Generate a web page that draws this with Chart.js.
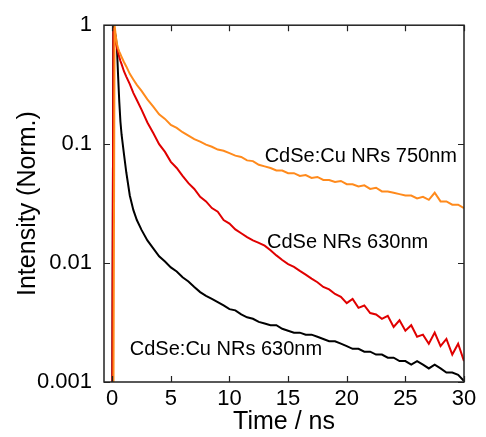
<!DOCTYPE html>
<html>
<head>
<meta charset="utf-8">
<script src="https://cdn.jsdelivr.net/npm/chart.js@4/dist/chart.umd.min.js"></script>
<style>
html,body{margin:0;padding:0;background:#fff;}
#wrap{width:486px;height:437px;}
</style>
</head>
<body>
<div id="wrap"><canvas id="c" width="486" height="437"></canvas></div>
<script>
// Time axis (ns)
const times = [-0.7, 0.0, 0.1, 0.2, 0.3, 0.4, 0.5, 0.6, 0.7, 0.8, 1.0, 1.2, 1.5, 1.8, 2.1, 2.5,
  3.0, 3.5, 4.0, 4.5, 5.0, 5.5, 6.0, 6.5, 7.0, 7.5, 8.0, 8.5, 9.0, 9.5, 10.0, 10.5, 11.0, 11.5,
  12.0, 12.5, 13.0, 13.5, 14.0, 14.5, 15.0, 15.5, 16.0, 16.5, 17.0, 17.5, 18.0, 18.5, 19.0, 19.5,
  20.0, 20.5, 21.0, 21.5, 22.0, 22.5, 23.0, 23.5, 24.0, 24.5, 25.0, 25.5, 26.0, 26.5, 27.0, 27.5,
  28.0, 28.5, 29.0, 29.5, 30.0];

// CdSe:Cu NRs 750nm (orange)
const cuNR750 = [0.0004, 0.0004, 0.0004, 1.0, 0.82, 0.70, 0.64, 0.60, 0.57, 0.54, 0.49, 0.45, 0.39, 0.35, 0.315, 0.28,
  0.238, 0.207, 0.178, 0.163, 0.145, 0.137, 0.126, 0.118, 0.110, 0.105, 0.099, 0.095, 0.090, 0.088, 0.084, 0.080, 0.078, 0.073,
  0.072, 0.067, 0.065, 0.063, 0.060, 0.060, 0.057, 0.057, 0.054, 0.055, 0.052, 0.053, 0.050, 0.050, 0.048, 0.049,
  0.046, 0.046, 0.044, 0.045, 0.042, 0.043, 0.040, 0.040, 0.039, 0.038, 0.037, 0.037, 0.035, 0.036, 0.034, 0.039,
  0.033, 0.033, 0.031, 0.031, 0.029];

// CdSe NRs 630nm (red)
const nr630 = [0.0004, 0.0004, 0.95, 0.80, 0.72, 0.65, 0.59, 0.54, 0.50, 0.47, 0.41, 0.37, 0.32, 0.27, 0.235, 0.195,
  0.152, 0.124, 0.100, 0.086, 0.071, 0.063, 0.054, 0.047, 0.042, 0.036, 0.033, 0.029, 0.027, 0.023, 0.0215, 0.0192, 0.0178, 0.0165,
  0.0155, 0.0148, 0.0140, 0.0128, 0.0116, 0.0106, 0.0098, 0.0093, 0.0086, 0.0080, 0.0074, 0.0069, 0.0063, 0.0060, 0.0055, 0.0052,
  0.0046, 0.0050, 0.0042, 0.0044, 0.0038, 0.0037, 0.0034, 0.0036, 0.0029, 0.0033, 0.0027, 0.0030, 0.0024, 0.0025, 0.0021, 0.0026,
  0.0020, 0.0023, 0.0017, 0.0021, 0.0015];

// CdSe:Cu NRs 630nm (black)
const cuNR630 = [0.0004, 0.0004, 0.98, 0.90, 0.80, 0.66, 0.38, 0.23, 0.155, 0.12, 0.083, 0.058, 0.037, 0.028, 0.023, 0.019,
  0.0155, 0.0133, 0.0114, 0.0103, 0.0092, 0.0085, 0.0076, 0.0070, 0.0063, 0.0057, 0.0053, 0.0050, 0.0047, 0.0044, 0.0041, 0.0040, 0.0037, 0.0035,
  0.0034, 0.0032, 0.0031, 0.0030, 0.0030, 0.0028, 0.0027, 0.0026, 0.0026, 0.0025, 0.0025, 0.0024, 0.0023, 0.0022, 0.0022, 0.0021,
  0.0020, 0.0019, 0.0019, 0.0018, 0.0018, 0.0017, 0.0017, 0.0016, 0.0016, 0.0015, 0.0015, 0.0014, 0.0015, 0.0014, 0.0013, 0.0014,
  0.0013, 0.0012, 0.0012, 0.00115, 0.00102];

const xTickValues = [0, 5, 10, 15, 20, 25, 30];
const xTickLabels = ['0', '5', '10', '15', '20', '25', '30'];
const yTickValues = [0.001, 0.01, 0.1, 1];
const yTickLabels = ['0.001', '0.01', '0.1', '1'];
const seriesNames = ['CdSe:Cu NRs 750nm', 'CdSe NRs 630nm', 'CdSe:Cu NRs 630nm'];

const FONT = "'Liberation Sans', Arial, sans-serif";
const toPts = arr => times.map((t, i) => ({x: t, y: arr[i]}));

// curve labels anchored in data coordinates
const curveLabels = [
  {text: seriesNames[0], x: 13.0, y: 0.078},
  {text: seriesNames[1], x: 13.2, y: 0.015},
  {text: seriesNames[2], x: 1.5, y: 0.00188}
];

const framePlugin = {
  id: 'frame',
  afterDatasetsDraw(chart) {
    const {ctx, chartArea: {left, right, top, bottom}, scales: {x, y}} = chart;
    ctx.save();
    ctx.strokeStyle = '#222';
    ctx.lineWidth = 1.5;
    ctx.strokeRect(left, top, right - left, bottom - top);
    ctx.lineWidth = 1.2;
    ctx.beginPath();
    xTickValues.forEach(v => {
      const px = Math.round(x.getPixelForValue(v)) + 0.5;
      ctx.moveTo(px, bottom); ctx.lineTo(px, bottom - 6);
      ctx.moveTo(px, top); ctx.lineTo(px, top + 6);
    });
    yTickValues.forEach(v => {
      const py = Math.round(y.getPixelForValue(v)) + 0.5;
      ctx.moveTo(left, py); ctx.lineTo(left + 6, py);
      ctx.moveTo(right, py); ctx.lineTo(right - 6, py);
    });
    ctx.stroke();
    ctx.fillStyle = '#000';
    ctx.font = '20px ' + FONT;
    ctx.textAlign = 'left';
    ctx.textBaseline = 'middle';
    curveLabels.forEach(l => {
      ctx.fillText(l.text, x.getPixelForValue(l.x), y.getPixelForValue(l.y));
    });
    ctx.restore();
  }
};

new Chart(document.getElementById('c'), {
  type: 'line',
  data: {
    datasets: [
      {label: seriesNames[2], data: toPts(cuNR630), borderColor: '#000000', borderWidth: 2, pointRadius: 0, tension: 0, order: 2},
      {label: seriesNames[1], data: toPts(nr630), borderColor: '#E00000', borderWidth: 2, pointRadius: 0, tension: 0, order: 1},
      {label: seriesNames[0], data: toPts(cuNR750), borderColor: '#FF8A1C', borderWidth: 2, pointRadius: 0, tension: 0, order: 0}
    ]
  },
  options: {
    responsive: false,
    animation: false,
    layout: {padding: {top: 22, right: 22, left: 0, bottom: 0}},
    plugins: {legend: {display: false}, tooltip: {enabled: false}},
    scales: {
      x: {
        type: 'linear', min: -0.7, max: 30,
        grid: {display: false, drawTicks: false},
        border: {display: false},
        afterBuildTicks: s => { s.ticks = xTickValues.map(v => ({value: v})); },
        afterFit: s => { s.height = 55; },
        ticks: {
          color: '#000', padding: 4, maxRotation: 0,
          font: {family: FONT, size: 22},
          callback: v => xTickLabels[xTickValues.indexOf(v)]
        },
        title: {display: true, text: 'Time / ns', color: '#000', font: {family: FONT, size: 25, lineHeight: 1.2}, padding: {top: 0, bottom: 0}}
      },
      y: {
        type: 'logarithmic', min: 0.001, max: 1,
        grid: {display: false, drawTicks: false},
        border: {display: false},
        afterBuildTicks: s => { s.ticks = yTickValues.map(v => ({value: v})); },
        afterFit: s => { s.width = 104; },
        ticks: {
          color: '#000', padding: 12,
          font: {family: FONT, size: 22},
          callback: v => yTickLabels[yTickValues.indexOf(v)]
        },
        title: {display: true, text: 'Intensity (Norm.)', color: '#000', font: {family: FONT, size: 25, lineHeight: 1.2}, padding: {top: 13, bottom: 0}}
      }
    }
  },
  plugins: [framePlugin]
});
</script>
</body>
</html>
